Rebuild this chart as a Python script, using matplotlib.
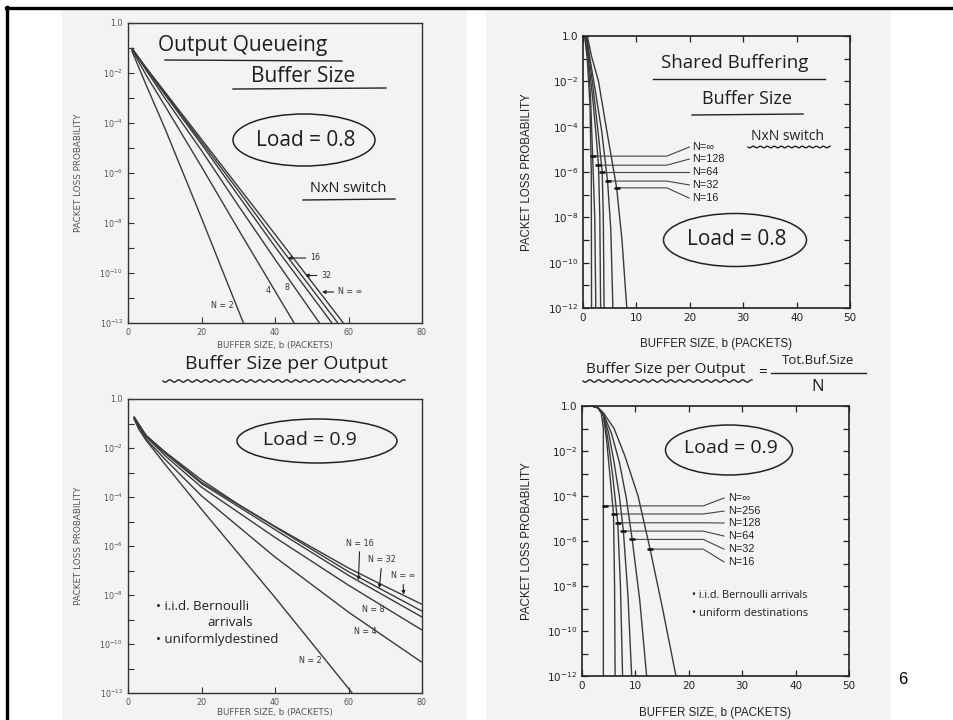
import numpy as np
import matplotlib.pyplot as plt
from matplotlib.patches import Ellipse, Rectangle
from matplotlib.lines import Line2D

W, H = 954, 720
HAND = ['Open Sans', 'DejaVu Sans']
INK = '#3a3a3a'
PAGE = '#f3f3f3'

# ---- top left: output queueing, load 0.8 (b, log10 P) ----
oq8_b = [[1, 5, 10, 20, 31.4],
         [1, 5, 10, 20, 30, 45.2],
         [1, 5, 10, 20, 30, 40, 52.1],
         [1, 5, 10, 20, 30, 40, 55.5],
         [1, 5, 10, 20, 30, 40, 57.1],
         [1, 5, 10, 20, 30, 40, 58.6]]
oq8_p = [[-1.1, -2.5, -4.2, -7.8, -12],
         [-1.05, -2.1, -3.3, -5.75, -8.25, -12],
         [-1.0, -1.9, -3.0, -5.1, -7.3, -9.45, -12],
         [-1.0, -1.85, -2.85, -4.85, -6.9, -8.95, -12],
         [-1.0, -1.83, -2.8, -4.75, -6.7, -8.7, -12],
         [-1.0, -1.8, -2.75, -4.65, -6.55, -8.45, -12]]

# ---- top right: shared buffering, load 0.8 ----
sb8_b = [[0.3, 0.8, 1.3, 1.55, 1.6],
         [0.4, 0.9, 1.4, 1.8, 2.2, 2.4],
         [0.5, 1.0, 1.8, 2.5, 2.9, 3.15, 3.3],
         [0.6, 1.2, 2.0, 2.9, 3.6, 3.8, 3.95],
         [0.7, 1.3, 2.3, 3.5, 4.6, 5.2, 5.6],
         [0.8, 1.6, 2.9, 4.4, 6.3, 7.3, 8.2]]
sb8_p = [[0, -1, -3, -6, -12],
         [0, -1, -2.6, -5.3, -8, -12],
         [0, -1, -2.7, -4.5, -5.7, -8, -12],
         [0, -1, -2.5, -4.4, -6.0, -8, -12],
         [0, -1, -2.4, -4.2, -6.4, -8.5, -12],
         [0, -0.9, -2.0, -4.1, -6.7, -9, -12]]
sb8_labels = ['N=∞', 'N=128', 'N=64', 'N=32', 'N=16']
sb8_mark_b = [1.8, 2.9, 3.6, 4.6, 6.3]
sb8_mark_p = [-5.3, -5.7, -6.0, -6.4, -6.7]
sb8_text_p = [-4.9, -5.43, -6.0, -6.57, -7.15]

# ---- bottom left: output queueing, load 0.9 ----
oq9_b = [[1.6, 3, 5, 10, 20, 40, 61],
         [1.6, 5, 10, 20, 40, 60, 80],
         [1.6, 5, 10, 20, 40, 60, 80],
         [1.6, 5, 10, 20, 40, 60, 80],
         [1.6, 5, 10, 20, 40, 60, 80],
         [1.6, 3, 5, 10, 20, 30, 40, 50, 60, 70, 80]]
oq9_p = [[-0.8, -1.25, -1.7, -2.65, -4.5, -8.1, -12],
         [-0.78, -1.65, -2.45, -3.95, -6.45, -8.7, -10.75],
         [-0.75, -1.55, -2.3, -3.6, -5.65, -7.6, -9.43],
         [-0.72, -1.52, -2.2, -3.45, -5.33, -7.2, -8.9],
         [-0.72, -1.5, -2.17, -3.4, -5.22, -7.05, -8.66],
         [-0.72, -1.15, -1.5, -2.15, -3.3, -4.3, -5.2, -6.05, -6.9, -7.65, -8.38]]

# ---- bottom right: shared buffering, load 0.9 ----
sb9_b = [[0, 2, 3, 3.6, 4.0, 4.0],
         [0, 2, 3, 4, 4.6, 5.2, 5.9, 6.1, 6.2],
         [0, 2, 3, 4, 4.8, 5.7, 6.7, 7.2, 7.6],
         [0, 2, 3, 4, 5, 6, 7, 7.75, 8.6, 9.3],
         [0, 2, 3, 4, 5.5, 7, 8.3, 9.4, 10.8, 12.1],
         [0, 2, 3, 4, 6, 8, 10.5, 12.75, 15, 17.6]]
sb9_p = [[0, -0.01, -0.08, -0.3, -1.0, -12],
         [0, -0.01, -0.08, -0.45, -1.5, -3.0, -4.8, -8, -12],
         [0, -0.01, -0.08, -0.4, -1.4, -3.0, -5.19, -8, -12],
         [0, -0.01, -0.08, -0.4, -1.2, -2.5, -4.0, -5.56, -8.4, -12],
         [0, -0.01, -0.08, -0.35, -1.2, -2.5, -4.1, -5.93, -8.6, -12],
         [0, -0.01, -0.07, -0.3, -1.0, -2.2, -4.0, -6.36, -8.9, -12]]
sb9_labels = ['N=∞', 'N=256', 'N=128', 'N=64', 'N=32', 'N=16']
sb9_mark_b = [4.3, 5.9, 6.7, 7.75, 9.4, 12.75]
sb9_mark_p = [-4.44, -4.8, -5.19, -5.56, -5.93, -6.36]
sb9_text_p = [-4.09, -4.67, -5.2, -5.78, -6.36, -6.93]

ytick_labels = ['1.0'] + [r'$10^{-%d}$' % k for k in range(2, 13, 2)]
SANS = ['Liberation Sans', 'DejaVu Sans']


def fx(x):
    return x / W


def fy(y):
    return 1 - y / H


def rect(x0, y0, x1, y1):
    return [fx(x0), fy(y1), (x1 - x0) / W, (y1 - y0) / H]


def setup(ax, xmax, xstep, scanned):
    ax.set_facecolor(PAGE)
    ax.set_yscale('log')
    ax.set_xlim(0, xmax)
    ax.set_ylim(1e-12, 1)
    ax.set_yticks([10.0 ** -k for k in range(0, 13, 2)])
    ax.set_yticklabels(ytick_labels)
    ax.set_yticks([10.0 ** -k for k in range(1, 13, 2)], minor=True)
    ax.yaxis.set_minor_formatter(plt.NullFormatter())
    ax.set_xticks(np.arange(0, xmax + 1, xstep))
    if scanned:
        col, fs = '#555555', 5.8
        for s in ax.spines.values():
            s.set_color('#333333')
            s.set_linewidth(1.0)
        ax.tick_params(which='both', direction='in', colors='#333333', labelcolor=col,
                       labelsize=fs, length=4, width=0.8)
        ax.set_xlabel('BUFFER SIZE, b (PACKETS)', fontsize=6.3, color=col)
        ax.set_ylabel('PACKET LOSS PROBABILITY', fontsize=6.3, color=col)
    else:
        col, fs = '#222222', 7.5
        for s in ax.spines.values():
            s.set_color('#222222')
            s.set_linewidth(1.2)
        ax.tick_params(which='both', direction='in', colors='#222222', labelcolor=col,
                       labelsize=fs, length=4, width=0.9, right=True, top=True)
        ax.set_xlabel('BUFFER SIZE, b (PACKETS)', fontsize=8.3, color=col, family=SANS)
        ax.set_ylabel('PACKET LOSS PROBABILITY', fontsize=8.3, color=col, family=SANS)


def curves(ax, bs, ps):
    for b, p in zip(bs, ps):
        ax.plot(b, 10.0 ** np.array(p), color=INK, lw=1.0, solid_capstyle='butt')


def leaders(ax, labels, mb, mp, tp, xbreak, xend, xtext, fs):
    for lab, b, p, t in zip(labels, mb, mp, tp):
        ax.plot([b, xbreak, xend], [10.0 ** p, 10.0 ** p, 10.0 ** t], color='#444444', lw=0.8)
        ax.plot([b], [10.0 ** p], marker='_', ms=4, mew=1.8, color='#111111')
        ax.text(xtext, 10.0 ** t, lab, fontsize=fs, va='center', ha='left', color='#222222',
                family=SANS)


def hand(x, y, s, size, **kw):
    kw.setdefault('ha', 'center')
    kw.setdefault('va', 'center')
    fig.text(fx(x), fy(y), s, fontsize=size, family=HAND, color='#1e1e1e', zorder=5, **kw)


def line(x0, y0, x1, y1, lw=1.0):
    fig.add_artist(Line2D([fx(x0), fx(x1)], [fy(y0), fy(y1)], color='#222222', lw=lw, zorder=5))


def wavy(x0, x1, y0, amp=1.2, period=9.0):
    xs = np.linspace(x0, x1, 200)
    ys = y0 + amp * np.sin(2 * np.pi * (xs - x0) / period)
    fig.add_artist(Line2D(fx(xs), fy(ys), color='#222222', lw=1.0, zorder=5))


def oval(cx, cy, w, h):
    fig.add_artist(Ellipse((fx(cx), fy(cy)), w / W, h / H, transform=fig.transFigure,
                           fill=False, ec='#222222', lw=1.1, zorder=5))


fig = plt.figure(figsize=(W / 100, H / 100), dpi=100)
fig.patch.set_facecolor('white')

# scanned pages and slide border, kept behind the axes
fig.add_artist(Rectangle((fx(62), 0), (467 - 62) / W, fy(10), transform=fig.transFigure,
                         color=PAGE, lw=0, zorder=-5))
fig.add_artist(Rectangle((fx(486), 0), (891 - 486) / W, fy(10), transform=fig.transFigure,
                         color=PAGE, lw=0, zorder=-5))
fig.add_artist(Line2D([fx(6), 1], [fy(8), fy(8)], color='black', lw=2.4, zorder=5))
fig.add_artist(Line2D([fx(7), fx(7)], [0, fy(7)], color='black', lw=2.4, zorder=5))

ax1 = fig.add_axes(rect(128, 23, 422, 323))
ax2 = fig.add_axes(rect(583, 36, 850, 308))
ax3 = fig.add_axes(rect(128, 399, 422, 693))
ax4 = fig.add_axes(rect(582, 406, 849, 676))

setup(ax1, 80, 20, True)
setup(ax3, 80, 20, True)
setup(ax2, 50, 10, False)
setup(ax4, 50, 10, False)
for ax in (ax1, ax3):
    ax.yaxis.set_label_coords(-0.153, 0.5)
ax1.xaxis.set_label_coords(0.5, -0.06)
ax3.xaxis.set_label_coords(0.5, -0.052)
ax2.yaxis.set_label_coords(-0.187, 0.5)
ax4.yaxis.set_label_coords(-0.184, 0.5)
ax2.xaxis.set_label_coords(0.5, -0.11)
ax4.xaxis.set_label_coords(0.5, -0.115)

curves(ax1, oq8_b, oq8_p)
curves(ax2, sb8_b, sb8_p)
curves(ax3, oq9_b, oq9_p)
curves(ax4, sb9_b, sb9_p)

# top left labels
small = dict(fontsize=5.8, color='#333333', va='center')
arrow = dict(arrowstyle='-|>', lw=0.8, color='#222222', mutation_scale=5, shrinkA=1, shrinkB=0)
ax1.annotate('16', xy=(43.5, 10 ** -9.4), xytext=(49.5, 10 ** -9.4), arrowprops=arrow, **small)
ax1.annotate('32', xy=(48.2, 10 ** -10.1), xytext=(52.5, 10 ** -10.1), arrowprops=arrow, **small)
ax1.annotate('N = ∞', xy=(52.8, 10 ** -10.76), xytext=(57.1, 10 ** -10.76), arrowprops=arrow, **small)
ax1.text(38.1, 10 ** -10.7, '4', ha='center', **small)
ax1.text(43.3, 10 ** -10.56, '8', ha='center', **small)
ax1.text(25.6, 10 ** -11.3, 'N = 2', ha='center', **small)

# bottom left labels
ax3.annotate('N = 16', xy=(62.7, 10 ** -7.4), xytext=(63.1, 10 ** -5.88), arrowprops=arrow,
             ha='center', **small)
ax3.annotate('N = 32', xy=(68.4, 10 ** -7.72), xytext=(69.1, 10 ** -6.57), arrowprops=arrow,
             ha='center', **small)
ax3.annotate('N = ∞', xy=(75, 10 ** -7.98), xytext=(74.8, 10 ** -7.22), arrowprops=arrow,
             ha='center', **small)
ax3.text(66.7, 10 ** -8.61, 'N = 8', ha='center', **small)
ax3.text(64.5, 10 ** -9.5, 'N = 4', ha='center', **small)
ax3.text(49.5, 10 ** -10.69, 'N = 2', ha='center', **small)

leaders(ax2, sb8_labels, sb8_mark_b, sb8_mark_p, sb8_text_p, 15.7, 19.9, 20.4, 7.8)
leaders(ax4, sb9_labels, sb9_mark_b, sb9_mark_p, sb9_text_p, 22.7, 26.6, 27.3, 7.8)

# handwritten notes, top left
hand(243, 46, 'Output Queueing', 15)
line(165, 60, 342, 61)
hand(303, 76, 'Buffer Size', 15)
line(233, 89, 386, 88)
oval(304, 140, 142, 52)
hand(306, 140, 'Load = 0.8', 15)
hand(348, 188, 'NxN switch', 10.5)
line(303, 200, 395, 199)

# top right
hand(735, 63, 'Shared Buffering', 13.5)
line(653, 79, 825, 79)
hand(747, 99, 'Buffer Size', 13)
line(692, 115, 803, 114)
hand(788, 136, 'NxN switch', 10)
wavy(748, 830, 147, amp=0.8, period=7)
oval(735, 240, 143, 53)
hand(737, 240, 'Load = 0.8', 15)

# bottom left
hand(286, 364, 'Buffer Size per Output', 14)
wavy(163, 405, 381)
oval(317, 441, 160, 44)
hand(310, 440, 'Load = 0.9', 14)
hand(156, 606, '• i.i.d. Bernoulli', 9.5, ha='left')
hand(207, 623, 'arrivals', 9.5, ha='left')
hand(156, 640, '• uniformlydestined', 9.5, ha='left')

# bottom right
hand(666, 370, 'Buffer Size per Output', 11)
wavy(583, 752, 381)
hand(763, 372, '=', 11)
hand(818, 361, 'Tot.Buf.Size', 9.5)
line(771, 373, 866, 373)
hand(818, 387, 'N', 12)
oval(729, 450, 127, 50)
hand(731, 448, 'Load = 0.9', 14)
hand(692, 595, '• i.i.d. Bernoulli arrivals', 7.8, ha='left')
hand(692, 613, '• uniform destinations', 8, ha='left')

fig.text(fx(903), fy(680), '6', fontsize=12, ha='center', va='center', family=SANS)

fig.savefig('out.png', dpi=100, facecolor='white')
